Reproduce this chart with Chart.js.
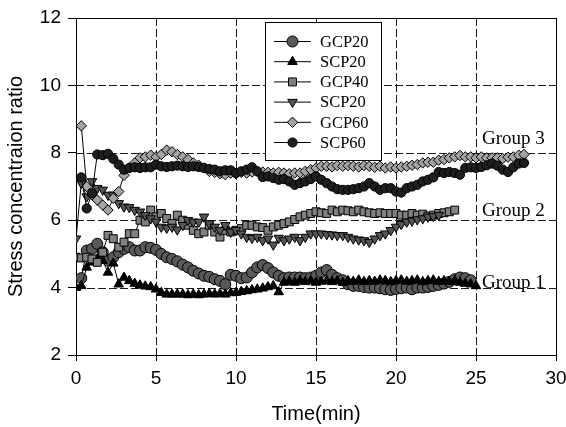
<!DOCTYPE html>
<html><head><meta charset="utf-8">
<script src="https://cdn.jsdelivr.net/npm/chart.js@4.4.1/dist/chart.umd.min.js"></script>
<style>html,body{margin:0;padding:0;background:#fff;}canvas{display:block;}</style>
</head><body>
<canvas id="c" width="566" height="427"></canvas>
<script>
// ---------- data ----------
const timeMin = [
  0, 0.33, 0.67, 1, 1.33, 1.67, 2, 2.33, 2.67, 3, 3.33, 3.67, 4, 4.33, 4.67,
  5, 5.33, 5.67, 6, 6.33, 6.67, 7, 7.33, 7.67, 8, 8.33, 8.67, 9, 9.33, 9.67,
  10, 10.33, 10.67, 11, 11.33, 11.67, 12, 12.33, 12.67, 13, 13.33, 13.67, 14, 14.33, 14.67,
  15, 15.33, 15.67, 16, 16.33, 16.67, 17, 17.33, 17.67, 18, 18.33, 18.67, 19, 19.33, 19.67,
  20, 20.33, 20.67, 21, 21.33, 21.67, 22, 22.33, 22.67, 23, 23.33, 23.67, 24, 24.33, 24.67,
  25, 25.33, 25.67, 26, 26.33, 26.67, 27, 27.33, 27.67, 28
];
const seriesNames = ['GCP20', 'SCP20', 'GCP40', 'SCP20', 'GCP60', 'SCP60'];
const gcp20 = [
  null, 4.28, 5.1, 5.15, 5.3, 5.05, 4.8, 4.9, 5.05, 5.15, 5.2, 5.1, 5.1, 5.2, 5.18,
  5.12, 5.0, 4.9, 4.85, 4.78, 4.68, 4.6, 4.5, 4.42, 4.35, 4.32, 4.25, 4.2, 4.1, 4.38,
  4.35, 4.28, 4.3, 4.45, 4.6, 4.67, 4.58, 4.45, 4.35, 4.28, 4.3, 4.3, 4.3, 4.28, 4.3,
  4.35, 4.45, 4.52, 4.38, 4.28, 4.22, 4.1, 4.05, 4.05, 4.02, 4.0, 4.0, 3.98, 3.95, 3.93,
  3.96, 3.98, 4.0, 3.95, 4.0, 4.0, 4.02, 4.05, 4.08, 4.12, 4.17, 4.25, 4.3, 4.28, 4.22,
  null, null, null, null, null, null, null, null, null, null
];
const scp20Up = [
  4.0, 4.05, 4.6, 4.75, 4.85, 4.8, 4.45, 4.72, 4.1, 4.3, 4.2, 4.12, 4.07, 4.04, 4.02,
  3.95, 3.85, 3.8, 3.8, 3.8, 3.8, 3.78, 3.8, 3.78, 3.8, 3.82, 3.8, 3.82, 3.8, 3.84,
  3.85, 3.88, 3.9, 3.93, 3.95, 3.98, 4.02, 4.05, 3.87, 4.15, 4.18, 4.15, 4.2, 4.17, 4.2,
  4.15, 4.18, 4.2, 4.17, 4.2, 4.15, 4.2, 4.18, 4.22, 4.17, 4.2, 4.18, 4.22, 4.2, 4.17,
  4.2, 4.22, 4.18, 4.2, 4.22, 4.17, 4.2, 4.22, 4.18, 4.2, 4.17, 4.2, 4.15, 4.12, 4.1,
  4.05, null, null, null, null, null, null, null, null, null
];
const gcp40 = [
  4.9, 4.88, 4.9, 4.85, 4.75, 5.05, 5.55, 5.45, 5.2, 5.35, 5.6, 5.6, 6.0, 5.95, 6.3,
  6.1, 6.2, 6.05, 5.9, 6.15, 6.0, 5.85, 5.7, 5.6, 5.65, 5.85, 5.65, 5.5, 5.7, 5.65,
  5.7, 5.75, 5.85, 5.85, 5.8, 5.78, 5.7, 5.8, 5.85, 5.9, 5.95, 6.02, 6.1, 6.15, 6.2,
  6.25, 6.22, 6.2, 6.3, 6.25, 6.3, 6.28, 6.25, 6.3, 6.25, 6.22, 6.2, 6.22, 6.2, 6.2,
  6.2, 6.15, 6.15, 6.2, 6.15, 6.18, 6.12, 6.15, 6.2, 6.22, 6.25, 6.3, null, null, null,
  null, null, null, null, null, null, null, null, null, null
];
const scp20Down = [
  5.45, 7.1, 6.7, 7.15, 6.95, 6.9, 6.75, 6.75, 6.5, 6.4, 6.38, 6.3, 6.25, 6.15, 6.05,
  5.95, 5.8, 5.77, 5.8, 5.72, 5.85, 6.0, 5.95, 5.95, 6.1, 5.9, 5.8, 5.7, 5.85, 5.65,
  5.7, 5.6, 5.5, 5.47, 5.5, 5.4, 5.45, 5.27, 5.47, 5.4, 5.45, 5.5, 5.4, 5.5, 5.6,
  5.6, 5.6, 5.58, 5.57, 5.55, 5.55, 5.5, 5.45, 5.42, 5.4, 5.35, 5.45, 5.55, 5.6, 5.7,
  5.8, 5.88, 5.95, 5.98, 6.02, 6.05, 6.1, 6.12, 6.15, null, null, null, null, null, null,
  null, null, null, null, null, null, null, null, null, null
];
const gcp60 = [
  null, 8.8, 7.0, 6.75, 6.6, 6.45, 6.3, 6.65, 6.85, 7.33, 7.55, 7.7, 7.85, 7.88, 7.93,
  7.88, 7.95, 8.08, 8.03, 7.95, 7.88, 7.8, 7.7, 7.63, 7.55, 7.45, 7.42, 7.38, 7.35, 7.4,
  7.38, 7.42, 7.4, 7.43, 7.45, 7.43, 7.42, 7.4, 7.42, 7.4, 7.38, 7.4, 7.4, 7.45, 7.5,
  7.55, 7.6, 7.6, 7.58, 7.62, 7.6, 7.62, 7.6, 7.58, 7.62, 7.6, 7.57, 7.6, 7.55, 7.58,
  7.55, 7.58, 7.6, 7.63, 7.65, 7.7, 7.72, 7.72, 7.78, 7.8, 7.85, 7.88, 7.92, 7.88, 7.88,
  7.85, 7.88, 7.85, 7.85, 7.85, 7.83, 7.87, 7.88, 7.93, 7.95
];
const scp60 = [
  null, 7.27, 6.35, 6.8, 7.95, 7.93, 7.97, 7.82, 7.65, 7.5, 7.55, 7.57, 7.55, 7.57, 7.57,
  7.65, 7.6, 7.58, 7.6, 7.62, 7.6, 7.58, 7.6, 7.58, 7.55, 7.52, 7.5, 7.45, 7.48, 7.48,
  7.4, 7.45, 7.5, 7.57, 7.45, 7.28, 7.3, 7.25, 7.2, 7.22, 7.15, 7.05, 7.1, 7.15, 7.22,
  7.3, 7.2, 7.1, 7.0, 6.92, 6.9, 6.9, 6.92, 6.95, 7.0, 7.1, 7.0, 6.9, 6.95, 6.95,
  6.85, 6.82, 6.95, 7.0, 7.05, 7.15, 7.2, 7.27, 7.43, 7.4, 7.43, 7.4, 7.35, 7.55, 7.57,
  7.55, 7.58, 7.63, 7.68, 7.62, 7.5, 7.43, 7.57, 7.68, 7.7
];
const xTicks = [0, 5, 10, 15, 20, 25, 30];
const yTicks = [2, 4, 6, 8, 10, 12];
const groupNames = ['Group 3', 'Group 2', 'Group 1'];
const groupLevels = [8, 6, 4];

// ---------- styles ----------
const styles = [
  {pointStyle: 'circle', rotation: 0, radius: 5.5, fill: '#595959'},
  {pointStyle: 'triangle', rotation: 0, radius: 5.5, fill: '#000000'},
  {pointStyle: 'rect', rotation: 0, radius: 5.6, fill: '#808080'},
  {pointStyle: 'triangle', rotation: 180, radius: 5.5, fill: '#555555'},
  {pointStyle: 'rectRot', rotation: 0, radius: 5.2, fill: '#a3a3a3'},
  {pointStyle: 'circle', rotation: 0, radius: 4.6, fill: '#1e1e1e'}
];
const allValues = [gcp20, scp20Up, gcp40, scp20Down, gcp60, scp60];

const datasets = allValues.map((vals, i) => ({
  label: seriesNames[i],
  data: timeMin.map((t, k) => ({x: t, y: vals[k]})),
  showLine: true,
  borderColor: '#000',
  borderWidth: 1,
  tension: 0,
  spanGaps: false,
  pointStyle: styles[i].pointStyle,
  rotation: styles[i].rotation,
  pointRadius: styles[i].radius,
  pointBackgroundColor: styles[i].fill,
  pointBorderColor: '#000',
  pointBorderWidth: 1,
  order: 6 - i
}));

const SANS = "'Liberation Sans', Arial, sans-serif";
const SERIF = "'Liberation Serif', 'Times New Roman', serif";

const gridPlugin = {
  id: 'gridFrame',
  beforeDatasetsDraw(chart) {
    const {ctx, chartArea: a, scales: {x, y}} = chart;
    ctx.save();
    ctx.strokeStyle = '#1a1a1a';
    ctx.lineWidth = 1;
    ctx.setLineDash([8, 3]);
    xTicks.slice(1, -1).forEach(v => {
      const p = Math.round(x.getPixelForValue(v)) + 0.5;
      ctx.beginPath(); ctx.moveTo(p, a.top); ctx.lineTo(p, a.bottom); ctx.stroke();
    });
    yTicks.slice(1, -1).forEach(v => {
      const p = Math.round(y.getPixelForValue(v)) + 0.5;
      ctx.beginPath(); ctx.moveTo(a.left, p); ctx.lineTo(a.right, p); ctx.stroke();
    });
    ctx.setLineDash([]);
    ctx.strokeStyle = '#000';
    const L = Math.round(a.left) + 0.5, R = Math.round(a.right) + 0.5;
    const T = Math.round(a.top) + 0.5, B = Math.round(a.bottom) + 0.5;
    ctx.strokeRect(L, T, R - L, B - T);
    ctx.restore();
  }
};

function drawMarker(ctx, st, cx, cy) {
  ctx.fillStyle = st.fill;
  ctx.strokeStyle = '#000';
  ctx.lineWidth = 1;
  if (Chart.helpers && Chart.helpers.drawPoint) {
    Chart.helpers.drawPoint(ctx, {pointStyle: st.pointStyle, rotation: st.rotation, radius: st.radius, borderWidth: 1}, cx, cy);
    return;
  }
  ctx.beginPath();
  ctx.arc(cx, cy, st.radius, 0, Math.PI * 2);
  ctx.fill(); ctx.stroke();
}

const overlayPlugin = {
  id: 'overlay',
  afterDraw(chart) {
    const {ctx, scales: {x, y}} = chart;
    ctx.save();
    // group labels
    ctx.fillStyle = '#000';
    ctx.font = '19px ' + SERIF;
    ctx.textAlign = 'left';
    ctx.textBaseline = 'alphabetic';
    const offsets = [-9, -4, 0];
    groupNames.forEach((g, i) => {
      ctx.fillText(g, x.getPixelForValue(25) + 6, y.getPixelForValue(groupLevels[i]) + offsets[i]);
    });
    // legend
    const bx = 265.5, by = 22.5, bw = 116, bh = 138;
    ctx.fillStyle = '#fff';
    ctx.fillRect(bx, by, bw, bh);
    ctx.strokeStyle = '#000';
    ctx.lineWidth = 1;
    ctx.strokeRect(bx, by, bw, bh);
    ctx.font = '16.5px ' + SERIF;
    ctx.textBaseline = 'middle';
    seriesNames.forEach((name, i) => {
      const ry = 41.5 + i * 20.2;
      ctx.strokeStyle = '#000';
      ctx.beginPath(); ctx.moveTo(274, ry); ctx.lineTo(311, ry); ctx.stroke();
      drawMarker(ctx, styles[i], 292.5, ry);
      ctx.fillStyle = '#000';
      ctx.fillText(name, 320, ry + 1);
    });
    ctx.restore();
  }
};

new Chart(document.getElementById('c'), {
  type: 'scatter',
  data: {datasets},
  options: {
    responsive: false,
    animation: false,
    devicePixelRatio: 1,
    layout: {padding: {top: 18, right: 10, bottom: 0, left: 0}},
    plugins: {legend: {display: false}, tooltip: {enabled: false}},
    scales: {
      x: {
        type: 'linear', min: 0, max: 30,
        afterBuildTicks: s => { s.ticks = xTicks.map(v => ({value: v})); },
        ticks: {color: '#000', font: {family: SANS, size: 19}, padding: 6, maxRotation: 0},
        grid: {drawOnChartArea: false, drawTicks: true, tickLength: 6, tickColor: '#000', color: '#000'},
        border: {display: true, color: '#000', width: 1},
        title: {display: true, text: 'Time(min)', color: '#000', font: {family: SANS, size: 20}, padding: {top: 0, bottom: 1}},
        afterFit: s => { s.height = 72; s.paddingLeft = 0; s.paddingRight = 0; }
      },
      y: {
        type: 'linear', min: 2, max: 12,
        afterBuildTicks: s => { s.ticks = yTicks.map(v => ({value: v})); },
        ticks: {color: '#000', font: {family: SANS, size: 19}, padding: 7},
        grid: {drawOnChartArea: false, drawTicks: true, tickLength: 8, tickColor: '#000', color: '#000'},
        border: {display: true, color: '#000', width: 1},
        title: {display: true, text: 'Stress concentraion ratio', color: '#000', font: {family: SANS, size: 20}, padding: {top: 4, bottom: 0}},
        afterFit: s => { s.width = 76; s.paddingTop = 0; s.paddingBottom = 0; }
      }
    }
  },
  plugins: [gridPlugin, overlayPlugin]
});
</script>
</body></html>
